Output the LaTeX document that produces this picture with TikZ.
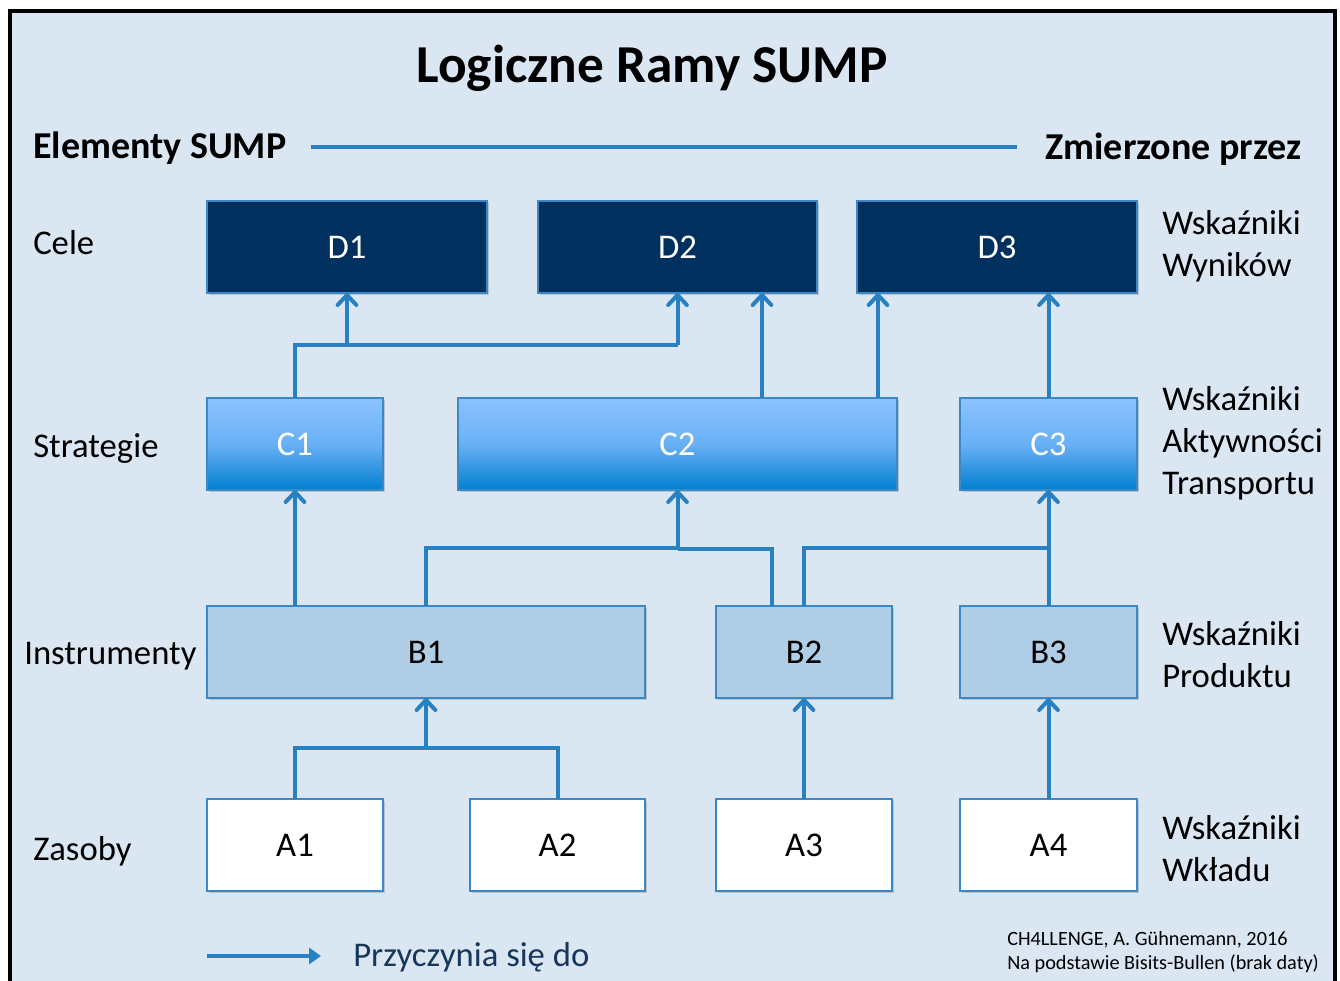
\documentclass[tikz,border=0pt]{standalone}
\usepackage{fontspec}
\setmainfont{Carlito}
\usetikzlibrary{arrows.meta,shadows}
\definecolor{bg}{RGB}{218,230,242}
\definecolor{connc}{RGB}{41,128,192}
\definecolor{dnavy}{RGB}{0,49,94}
\definecolor{ctop}{RGB}{140,194,255}
\definecolor{cmid}{RGB}{105,176,245}
\definecolor{cbot}{RGB}{0,128,208}
\definecolor{bfill}{RGB}{176,205,230}
\definecolor{bord}{RGB}{60,135,197}
\definecolor{legtxt}{RGB}{22,54,92}
\tikzset{
  box/.style={draw=bord, line width=1pt, minimum height=69pt, inner sep=0pt, outer sep=0pt,
     font=\fontsize{26}{31}\selectfont, drop shadow={shadow xshift=1.2pt, shadow yshift=-1.2pt, opacity=0.35}},
  wd/.style={minimum width=#1*0.75pt},
  dbox/.style={box, fill=dnavy, text=white},
  cbox/.style={box, top color=ctop, bottom color=cbot, middle color=cmid, text=white},
  bbox/.style={box, fill=bfill, text=black},
  abox/.style={box, fill=white, text=black},
  conn/.style={draw=connc, line width=3pt},
  tipc/.style={-{Straight Barb[length=7.5pt,width=14pt,line cap=round,line join=round]}},
  lbl/.style={font=\fontsize{26}{31}\selectfont, anchor=west, inner sep=0pt},
  rlbl/.style={font=\fontsize{26}{31.5}\selectfont, anchor=west, align=left, inner sep=0pt},
  hdr/.style={font=\bfseries\fontsize{28.5}{34}\selectfont, inner sep=0pt},
}
\begin{document}
\begin{tikzpicture}[x=0.75pt,y=-0.75pt]
\useasboundingbox (0,0) rectangle (1340,981);
\clip (0,0) rectangle (1340,981);
\fill[white] (0,0) rectangle (1340,981);
\draw[fill=bg, line width=2.4pt] (10,11) rectangle (1335,1010);

% title and headers
\node[font=\bfseries\fontsize{40}{48}\selectfont, inner sep=0pt] (title) at (652,68) {Logiczne Ramy SUMP};
\node[hdr, anchor=west] (elem) at (33,148) {Elementy SUMP};
\node[hdr, anchor=east] (zmier) at (1302,149) {Zmierzone przez};
\draw[conn, line width=3pt] ([xshift=18pt]elem.east |- 0,147) -- ([xshift=-21pt]zmier.west |- 0,147);

% left labels
\node[lbl] (lcele) at (33,243) {Cele};
\node[lbl] (lstrat) at (33,449) {Strategie};
\node[lbl] (linst) at (24,656) {Instrumenty};
\node[lbl] (lzas) at (33,851) {Zasoby};

% right labels
\node[rlbl] (rd) at (1162,246) {Wskaźniki\\Wyników};
\node[rlbl] (rc) at (1162,443) {Wskaźniki\\Aktywności\\Transportu};
\node[rlbl] (rb) at (1162,655) {Wskaźniki\\Produktu};
\node[rlbl] (ra) at (1162,849) {Wskaźniki\\Wkładu};

% boxes
\node[dbox, wd=280] (d1) at (347,247) {D1};
\node[dbox, wd=279] (d2) at (677.5,247) {D2};
\node[dbox, wd=280] (d3) at (997,247) {D3};
\node[cbox, wd=176] (c1) at (295,444) {C1};
\node[cbox, wd=439] (c2) at (677.5,444) {C2};
\node[cbox, wd=177] (c3) at (1048.5,444) {C3};
\node[bbox, wd=438] (b1) at (426,652) {B1};
\node[bbox, wd=176] (b2) at (804,652) {B2};
\node[bbox, wd=177] (b3) at (1048.5,652) {B3};
\node[abox, wd=176] (a1) at (295,845) {A1};
\node[abox, wd=175] (a2) at (557.5,845) {A2};
\node[abox, wd=176] (a3) at (804,845) {A3};
\node[abox, wd=177] (a4) at (1048.5,845) {A4};

% junction coordinates
\coordinate (j1) at (0,345);
\coordinate (j2) at (0,548);
\coordinate (j3) at (0,748);
\coordinate (x762) at (762,0);
\coordinate (x878) at (878,0);
\coordinate (x772) at (772,0);

% C -> D
\draw[conn] (c1.north) |- (j1 -| d2.south);
\draw[conn, tipc] (j1 -| d2.south) -- (d2.south);
\draw[conn, tipc] (j1 -| d1.south) -- (d1.south);
\draw[conn, tipc] (c2.north -| x762) -- (d2.south -| x762);
\draw[conn, tipc] (c2.north -| x878) -- (d3.south -| x878);
\draw[conn, tipc] (c3.north) -- (c3.north |- d3.south);

% B -> C
\draw[conn, tipc] (b1.north -| c1.south) -- (c1.south);
\draw[conn] (b1.north) |- (j2 -| c2.south);
\draw[conn, tipc] (j2 -| c2.south) -- (c2.south);
\draw[conn] ([yshift=-0.5pt]j2 -| c2.south) -| (b2.north -| x772);
\draw[conn] (b2.north) |- (j2 -| c3.south);
\draw[conn, tipc] (j2 -| c3.south) -- (c3.south);
\draw[conn] (b3.north) -- (b3.north |- j2);

% A -> B
\draw[conn] (a1.north) |- (j3 -| a2.north) -- (a2.north);
\draw[conn, tipc] (j3 -| b1.south) -- (b1.south);
\draw[conn, tipc] (a3.north) -- (a3.north |- b2.south);
\draw[conn, tipc] (a4.north) -- (a4.north |- b3.south);

% legend
\coordinate (leg0) at (207,956);
\coordinate (leg1) at (321,956);
\draw[conn, -{Triangle[length=9pt,width=12pt]}] (leg0) -- (leg1);
\node[font=\fontsize{26}{31}\selectfont, text=legtxt, anchor=west, inner sep=0pt] (legt) at (353,957) {Przyczynia się do};

% credit
\node[font=\fontsize{15.2}{18}\selectfont, anchor=west, align=left, inner sep=0pt] (cred) at (1007,952) {CH4LLENGE, A. Gühnemann, 2016\\Na podstawie Bisits-Bullen (brak daty)};
\end{tikzpicture}
\end{document}
